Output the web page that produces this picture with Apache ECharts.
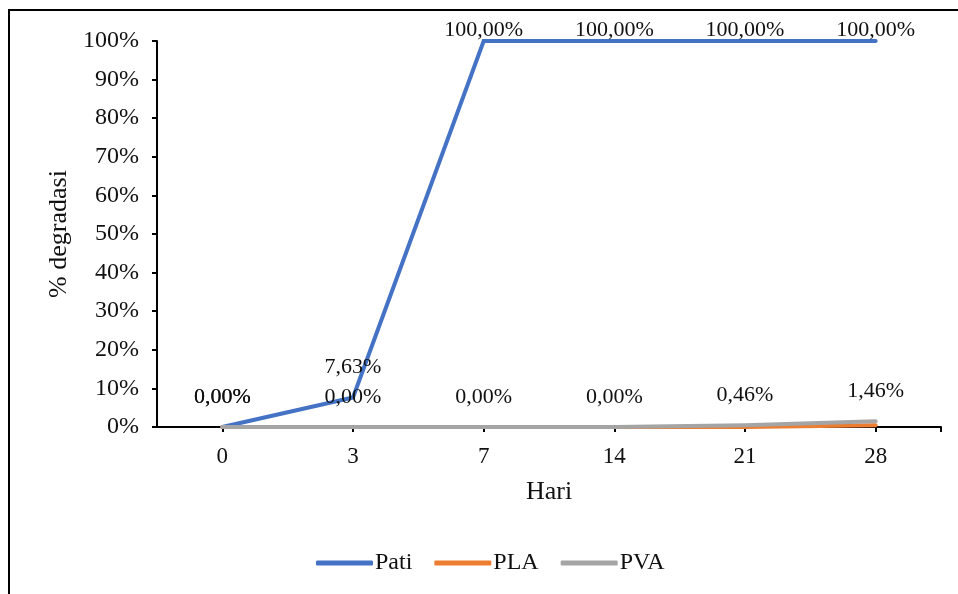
<!DOCTYPE html>
<html>
<head>
<meta charset="utf-8">
<script src="https://cdn.jsdelivr.net/npm/echarts@6/dist/echarts.min.js"></script>
<style>
  html, body { margin: 0; padding: 0; background: #fff; }
  #chart { width: 958px; height: 594px; }
</style>
</head>
<body>
<div id="chart"></div>
<script>
// Days of observation
const days = ['0', '3', '7', '14', '21', '28'];
// Degradation (%) per material
const pati = [0, 7.63, 100, 100, 100, 100];
const pla = [0, 0, 0, 0, 0, 0.45];
const pva = [0, 0, 0, 0, 0.46, 1.46];
// Y axis range and tick step (%)
const yMin = 0, yMax = 100, yStep = 10;

const FONT = "'Times New Roman', 'Liberation Serif', serif";
const TXT = '#111';

const GRID = { left: 157, right: 17, top: 41, bottom: 167 };

function pct(v) {
  return v.toFixed(2).replace('.', ',') + '%';
}

// Labels sit well above low points; at the top of the scale they hug the line
function labelled(values) {
  return values.map(v => ({
    value: v,
    label: { distance: v >= yMax ? 0 : 19 }
  }));
}

const labelStyle = {
  show: true,
  position: 'top',
  fontFamily: FONT,
  fontSize: 22,
  color: TXT,
  formatter: p => pct(p.value)
};

function series(name, values, color, withLabels) {
  return {
    name,
    type: 'line',
    data: withLabels ? labelled(values) : values,
    symbol: 'circle',
    symbolSize: 0,
    showSymbol: true,
    clip: false,
    lineStyle: { color, width: 4, cap: 'round', join: 'miter' },
    itemStyle: { color },
    label: withLabels ? labelStyle : { show: false },
    emphasis: { disabled: true },
    animation: false
  };
}

const chart = echarts.init(document.getElementById('chart'), null, { renderer: 'canvas' });

chart.setOption({
  animation: false,
  backgroundColor: '#fff',
  textStyle: { fontFamily: FONT },
  grid: GRID,
  xAxis: {
    type: 'category',
    data: days,
    boundaryGap: true,
    name: 'Hari',
    nameLocation: 'middle',
    nameGap: 52,
    nameTextStyle: { fontFamily: FONT, fontSize: 26, color: TXT },
    axisLine: { lineStyle: { color: '#000', width: 2 } },
    axisTick: { show: true, alignWithLabel: true, length: 5, lineStyle: { color: '#000', width: 2 } },
    axisLabel: { fontFamily: FONT, fontSize: 23, color: TXT, margin: 18 },
    splitLine: { show: false }
  },
  yAxis: {
    type: 'value',
    min: yMin,
    max: yMax,
    interval: yStep,
    name: '% degradasi',
    nameLocation: 'middle',
    nameGap: 85,
    nameTextStyle: { fontFamily: FONT, fontSize: 26, color: TXT },
    axisLine: { show: true, lineStyle: { color: '#000', width: 2 } },
    axisTick: { show: true, length: 5, lineStyle: { color: '#000', width: 2 } },
    axisLabel: { fontFamily: FONT, fontSize: 24, color: TXT, margin: 18, formatter: v => v + '%' },
    splitLine: { show: false }
  },
  legend: {
    left: 311,
    top: 546,
    itemWidth: 57,
    itemHeight: 5,
    itemGap: 22,
    icon: 'roundRect',
    textStyle: { fontFamily: FONT, fontSize: 24, color: TXT, padding: [0, 0, 0, -3] },
    data: ['Pati', 'PLA', 'PVA']
  },
  series: [
    series('Pati', pati, '#4472C4', true),
    series('PLA', pla, '#ED7D31', false),
    series('PVA', pva, '#A5A5A5', true)
  ],
  graphic: [
    // outer frame
    { type: 'rect', silent: true, shape: { x: 9, y: 10, width: 1000, height: 700 },
      style: { fill: 'none', stroke: '#000', lineWidth: 2 } },
    // closing tick at the right end of the category axis
    { type: 'line', silent: true,
      shape: { x1: 958 - GRID.right, y1: 594 - GRID.bottom, x2: 958 - GRID.right, y2: 594 - GRID.bottom + 5 },
      style: { stroke: '#000', lineWidth: 2 } }
  ]
});
</script>
</body>
</html>
